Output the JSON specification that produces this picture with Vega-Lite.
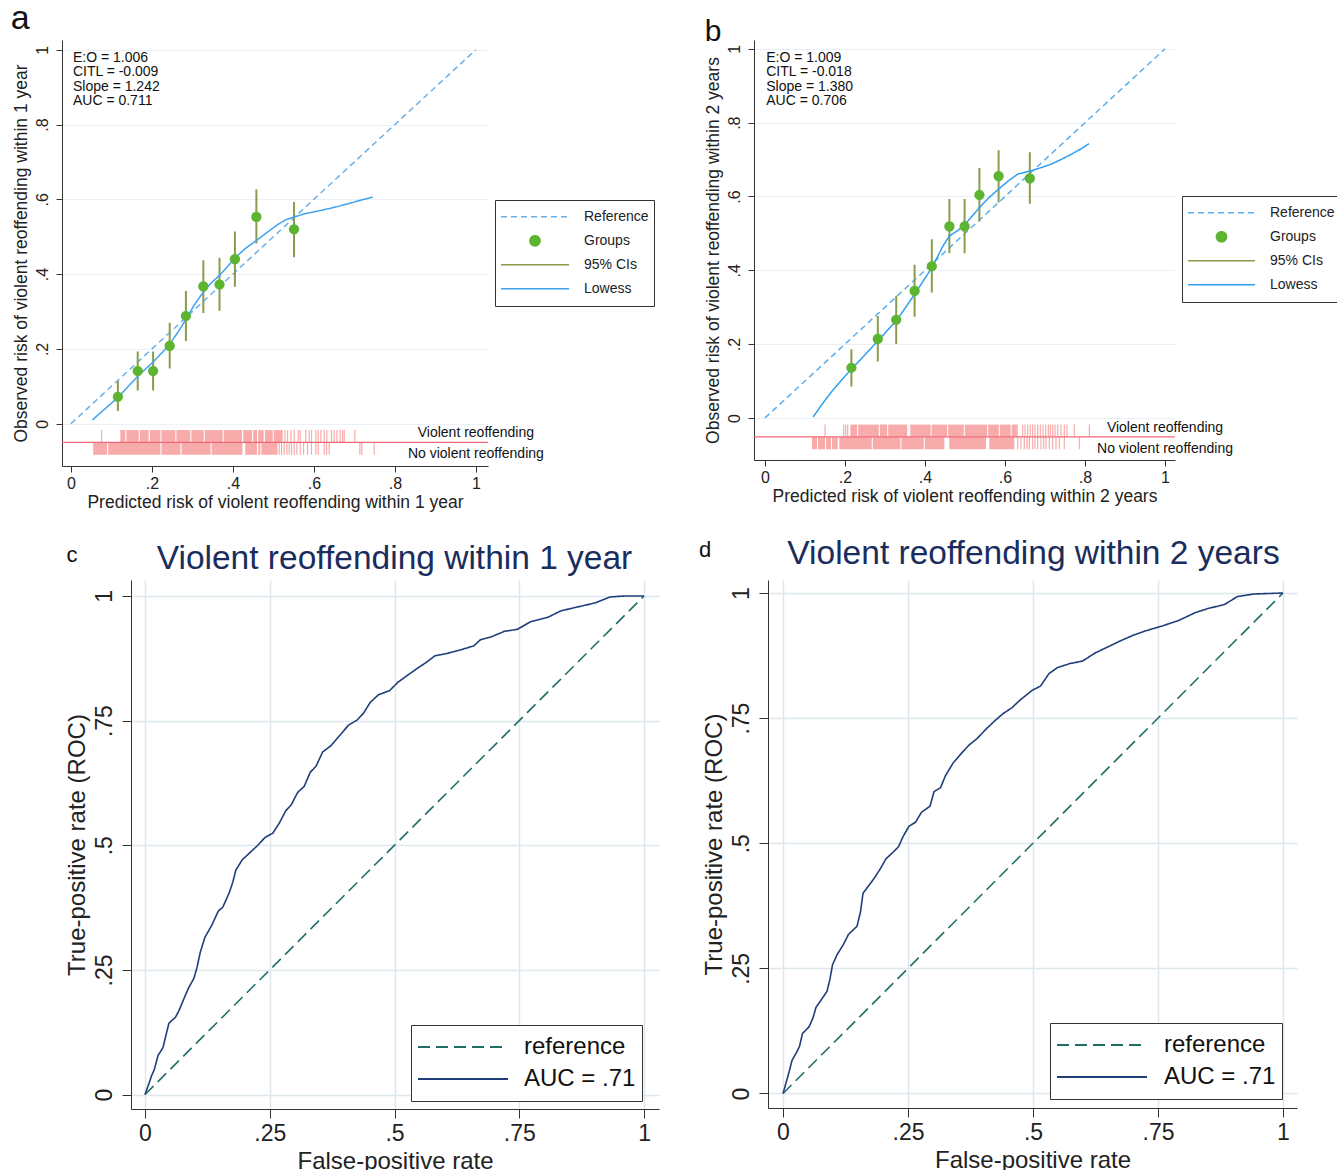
{
  "$schema": "https://vega.github.io/schema/vega-lite/v6.json",
  "background": "white",
  "padding": {"left": 10, "top": 1, "right": 0, "bottom": 0},
  "bounds": "flush",
  "spacing": 540,
  "resolve": {"scale": {"color": "independent", "strokeDash": "independent", "shape": "independent"}, "legend": {"color": "independent", "strokeDash": "independent", "shape": "independent"}},
  "datasets": {
    "grpA": [
      {"x": 0.116, "y": 0.072, "lo": 0.034, "hi": 0.114},
      {"x": 0.165, "y": 0.141, "lo": 0.089, "hi": 0.193},
      {"x": 0.203, "y": 0.141, "lo": 0.089, "hi": 0.193},
      {"x": 0.244, "y": 0.208, "lo": 0.148, "hi": 0.270},
      {"x": 0.284, "y": 0.288, "lo": 0.221, "hi": 0.355},
      {"x": 0.327, "y": 0.367, "lo": 0.296, "hi": 0.437},
      {"x": 0.367, "y": 0.372, "lo": 0.302, "hi": 0.444},
      {"x": 0.405, "y": 0.440, "lo": 0.366, "hi": 0.514},
      {"x": 0.458, "y": 0.553, "lo": 0.482, "hi": 0.626},
      {"x": 0.551, "y": 0.520, "lo": 0.445, "hi": 0.593}
    ],
    "grpB": [
      {"x": 0.216, "y": 0.136, "lo": 0.085, "hi": 0.186},
      {"x": 0.282, "y": 0.214, "lo": 0.153, "hi": 0.276},
      {"x": 0.328, "y": 0.266, "lo": 0.200, "hi": 0.331},
      {"x": 0.374, "y": 0.344, "lo": 0.274, "hi": 0.415},
      {"x": 0.417, "y": 0.411, "lo": 0.340, "hi": 0.484},
      {"x": 0.461, "y": 0.519, "lo": 0.446, "hi": 0.593},
      {"x": 0.499, "y": 0.519, "lo": 0.446, "hi": 0.593},
      {"x": 0.536, "y": 0.604, "lo": 0.532, "hi": 0.677},
      {"x": 0.584, "y": 0.655, "lo": 0.584, "hi": 0.725},
      {"x": 0.662, "y": 0.649, "lo": 0.580, "hi": 0.720}
    ],
    "lowA": [
      {"x": 0.053, "y": 0.010}, {"x": 0.08, "y": 0.036}, {"x": 0.116, "y": 0.070}, {"x": 0.14, "y": 0.098},
      {"x": 0.165, "y": 0.127}, {"x": 0.19, "y": 0.152}, {"x": 0.203, "y": 0.165}, {"x": 0.225, "y": 0.19},
      {"x": 0.244, "y": 0.213}, {"x": 0.265, "y": 0.246}, {"x": 0.284, "y": 0.279}, {"x": 0.305, "y": 0.318},
      {"x": 0.327, "y": 0.352}, {"x": 0.345, "y": 0.375}, {"x": 0.367, "y": 0.397}, {"x": 0.385, "y": 0.418},
      {"x": 0.405, "y": 0.443}, {"x": 0.43, "y": 0.468}, {"x": 0.458, "y": 0.490}, {"x": 0.485, "y": 0.512},
      {"x": 0.51, "y": 0.532}, {"x": 0.53, "y": 0.545}, {"x": 0.551, "y": 0.553}, {"x": 0.58, "y": 0.562},
      {"x": 0.62, "y": 0.571}, {"x": 0.66, "y": 0.581}, {"x": 0.70, "y": 0.593}, {"x": 0.745, "y": 0.606}
    ],
    "lowB": [
      {"x": 0.120, "y": 0.002}, {"x": 0.14, "y": 0.033}, {"x": 0.165, "y": 0.069}, {"x": 0.19, "y": 0.101},
      {"x": 0.216, "y": 0.132}, {"x": 0.25, "y": 0.171}, {"x": 0.282, "y": 0.209}, {"x": 0.305, "y": 0.236},
      {"x": 0.328, "y": 0.263}, {"x": 0.35, "y": 0.297}, {"x": 0.374, "y": 0.335}, {"x": 0.395, "y": 0.37},
      {"x": 0.417, "y": 0.407}, {"x": 0.432, "y": 0.438}, {"x": 0.445, "y": 0.466}, {"x": 0.461, "y": 0.493},
      {"x": 0.481, "y": 0.507}, {"x": 0.499, "y": 0.523}, {"x": 0.518, "y": 0.547}, {"x": 0.536, "y": 0.570},
      {"x": 0.56, "y": 0.597}, {"x": 0.584, "y": 0.620}, {"x": 0.608, "y": 0.642}, {"x": 0.631, "y": 0.660},
      {"x": 0.662, "y": 0.669}, {"x": 0.69, "y": 0.678}, {"x": 0.714, "y": 0.687}, {"x": 0.74, "y": 0.700},
      {"x": 0.765, "y": 0.714}, {"x": 0.79, "y": 0.729}, {"x": 0.810, "y": 0.743}
    ],
    "rugA_span": [
      {"g": "v", "x": 0.122, "x2": 0.1345}, {"g": "v", "x": 0.137, "x2": 0.1675}, {"g": "v", "x": 0.170, "x2": 0.192},
      {"g": "v", "x": 0.195, "x2": 0.221}, {"g": "v", "x": 0.2235, "x2": 0.258}, {"g": "v", "x": 0.2605, "x2": 0.295},
      {"g": "v", "x": 0.2975, "x2": 0.328}, {"g": "v", "x": 0.3305, "x2": 0.375}, {"g": "v", "x": 0.3775, "x2": 0.4225},
      {"g": "v", "x": 0.4255, "x2": 0.4475}, {"g": "v", "x": 0.450, "x2": 0.4595}, {"g": "v", "x": 0.4625, "x2": 0.476},
      {"g": "v", "x": 0.479, "x2": 0.4985}, {"g": "v", "x": 0.501, "x2": 0.523},
      {"g": "n", "x": 0.055, "x2": 0.0895}, {"g": "n", "x": 0.092, "x2": 0.221}, {"g": "n", "x": 0.2235, "x2": 0.2705},
      {"g": "n", "x": 0.273, "x2": 0.345}, {"g": "n", "x": 0.3475, "x2": 0.4235}, {"g": "n", "x": 0.4305, "x2": 0.4595},
      {"g": "n", "x": 0.4625, "x2": 0.468}, {"g": "n", "x": 0.4705, "x2": 0.5103}
    ],
    "rugA_tick": [
      {"g": "v", "x": 0.0757}, {"g": "v", "x": 0.5284}, {"g": "v", "x": 0.5350}, {"g": "v", "x": 0.5432},
      {"g": "v", "x": 0.5514}, {"g": "v", "x": 0.5613}, {"g": "v", "x": 0.5663}, {"g": "v", "x": 0.5802},
      {"g": "v", "x": 0.5885}, {"g": "v", "x": 0.5942}, {"g": "v", "x": 0.6049}, {"g": "v", "x": 0.6107},
      {"g": "v", "x": 0.6173}, {"g": "v", "x": 0.6255}, {"g": "v", "x": 0.6321}, {"g": "v", "x": 0.6436},
      {"g": "v", "x": 0.6502}, {"g": "v", "x": 0.6568}, {"g": "v", "x": 0.6650}, {"g": "v", "x": 0.6708},
      {"g": "v", "x": 0.6749}, {"g": "v", "x": 0.7012},
      {"g": "n", "x": 0.5144}, {"g": "n", "x": 0.5202}, {"g": "n", "x": 0.5267}, {"g": "n", "x": 0.5333},
      {"g": "n", "x": 0.5391}, {"g": "n", "x": 0.5449}, {"g": "n", "x": 0.5514}, {"g": "n", "x": 0.5580},
      {"g": "n", "x": 0.5663}, {"g": "n", "x": 0.5745}, {"g": "n", "x": 0.5844}, {"g": "n", "x": 0.5942},
      {"g": "n", "x": 0.6049}, {"g": "n", "x": 0.6107}, {"g": "n", "x": 0.6255}, {"g": "n", "x": 0.6313},
      {"g": "n", "x": 0.6379}, {"g": "n", "x": 0.7136}, {"g": "n", "x": 0.7185}, {"g": "n", "x": 0.7490}
    ],
    "rugB_span": [
      {"g": "v", "x": 0.2133, "x2": 0.2305}, {"g": "v", "x": 0.233, "x2": 0.2845}, {"g": "v", "x": 0.287, "x2": 0.3055},
      {"g": "v", "x": 0.308, "x2": 0.3555}, {"g": "v", "x": 0.3633, "x2": 0.414}, {"g": "v", "x": 0.4165, "x2": 0.4555},
      {"g": "v", "x": 0.458, "x2": 0.497}, {"g": "v", "x": 0.4995, "x2": 0.5555}, {"g": "v", "x": 0.558, "x2": 0.5845},
      {"g": "v", "x": 0.587, "x2": 0.614}, {"g": "v", "x": 0.6165, "x2": 0.6317},
      {"g": "n", "x": 0.1175, "x2": 0.130}, {"g": "n", "x": 0.1325, "x2": 0.150}, {"g": "n", "x": 0.1525, "x2": 0.165},
      {"g": "n", "x": 0.1675, "x2": 0.1817}, {"g": "n", "x": 0.1858, "x2": 0.267}, {"g": "n", "x": 0.2695, "x2": 0.3385},
      {"g": "n", "x": 0.341, "x2": 0.397}, {"g": "n", "x": 0.3995, "x2": 0.4483}, {"g": "n", "x": 0.4608, "x2": 0.5525},
      {"g": "n", "x": 0.5608, "x2": 0.6233}
    ],
    "rugB_tick": [
      {"g": "v", "x": 0.150}, {"g": "v", "x": 0.1967}, {"g": "v", "x": 0.2017}, {"g": "v", "x": 0.2067},
      {"g": "v", "x": 0.6442}, {"g": "v", "x": 0.65}, {"g": "v", "x": 0.6567}, {"g": "v", "x": 0.6633},
      {"g": "v", "x": 0.6692}, {"g": "v", "x": 0.675}, {"g": "v", "x": 0.6817}, {"g": "v", "x": 0.6883},
      {"g": "v", "x": 0.695}, {"g": "v", "x": 0.7017}, {"g": "v", "x": 0.7083}, {"g": "v", "x": 0.7133},
      {"g": "v", "x": 0.7192}, {"g": "v", "x": 0.725}, {"g": "v", "x": 0.7317}, {"g": "v", "x": 0.74},
      {"g": "v", "x": 0.7483}, {"g": "v", "x": 0.755}, {"g": "v", "x": 0.7733}, {"g": "v", "x": 0.8108},
      {"g": "n", "x": 0.6317}, {"g": "n", "x": 0.64}, {"g": "n", "x": 0.6483}, {"g": "n", "x": 0.655},
      {"g": "n", "x": 0.6608}, {"g": "n", "x": 0.6692}, {"g": "n", "x": 0.675}, {"g": "n", "x": 0.6817},
      {"g": "n", "x": 0.69}, {"g": "n", "x": 0.6967}, {"g": "n", "x": 0.7025}, {"g": "n", "x": 0.7108},
      {"g": "n", "x": 0.7192}, {"g": "n", "x": 0.7275}, {"g": "n", "x": 0.7358}, {"g": "n", "x": 0.7483},
      {"g": "n", "x": 0.7858}
    ],
    "rocC": [
      {"x": 0, "y": 0}, {"x": 0.009, "y": 0.025}, {"x": 0.013, "y": 0.037}, {"x": 0.019, "y": 0.051},
      {"x": 0.026, "y": 0.078}, {"x": 0.036, "y": 0.094}, {"x": 0.043, "y": 0.123}, {"x": 0.048, "y": 0.143},
      {"x": 0.061, "y": 0.155}, {"x": 0.068, "y": 0.168}, {"x": 0.078, "y": 0.192}, {"x": 0.087, "y": 0.213},
      {"x": 0.098, "y": 0.233}, {"x": 0.104, "y": 0.254}, {"x": 0.111, "y": 0.286}, {"x": 0.120, "y": 0.315},
      {"x": 0.134, "y": 0.340}, {"x": 0.147, "y": 0.368}, {"x": 0.156, "y": 0.376}, {"x": 0.169, "y": 0.405},
      {"x": 0.176, "y": 0.426}, {"x": 0.182, "y": 0.450}, {"x": 0.195, "y": 0.471}, {"x": 0.208, "y": 0.483},
      {"x": 0.225, "y": 0.499}, {"x": 0.241, "y": 0.516}, {"x": 0.256, "y": 0.524}, {"x": 0.269, "y": 0.544},
      {"x": 0.282, "y": 0.569}, {"x": 0.293, "y": 0.581}, {"x": 0.306, "y": 0.606}, {"x": 0.319, "y": 0.618},
      {"x": 0.331, "y": 0.646}, {"x": 0.343, "y": 0.659}, {"x": 0.356, "y": 0.687}, {"x": 0.373, "y": 0.700},
      {"x": 0.390, "y": 0.720}, {"x": 0.408, "y": 0.741}, {"x": 0.425, "y": 0.751}, {"x": 0.438, "y": 0.765},
      {"x": 0.451, "y": 0.786}, {"x": 0.468, "y": 0.802}, {"x": 0.490, "y": 0.810}, {"x": 0.507, "y": 0.827},
      {"x": 0.529, "y": 0.843}, {"x": 0.546, "y": 0.855}, {"x": 0.564, "y": 0.867}, {"x": 0.581, "y": 0.880},
      {"x": 0.607, "y": 0.885}, {"x": 0.633, "y": 0.892}, {"x": 0.659, "y": 0.900}, {"x": 0.672, "y": 0.912},
      {"x": 0.694, "y": 0.918}, {"x": 0.720, "y": 0.929}, {"x": 0.746, "y": 0.933}, {"x": 0.772, "y": 0.948},
      {"x": 0.807, "y": 0.957}, {"x": 0.833, "y": 0.970}, {"x": 0.867, "y": 0.978}, {"x": 0.902, "y": 0.986},
      {"x": 0.932, "y": 0.998}, {"x": 0.963, "y": 1.0}, {"x": 1.0, "y": 1.0}
    ],
    "rocD": [
      {"x": 0, "y": 0}, {"x": 0.006, "y": 0.021}, {"x": 0.013, "y": 0.046}, {"x": 0.018, "y": 0.066},
      {"x": 0.027, "y": 0.082}, {"x": 0.033, "y": 0.094}, {"x": 0.039, "y": 0.120}, {"x": 0.052, "y": 0.133},
      {"x": 0.060, "y": 0.151}, {"x": 0.066, "y": 0.172}, {"x": 0.077, "y": 0.188}, {"x": 0.088, "y": 0.204},
      {"x": 0.094, "y": 0.229}, {"x": 0.099, "y": 0.257}, {"x": 0.108, "y": 0.277}, {"x": 0.121, "y": 0.298},
      {"x": 0.131, "y": 0.318}, {"x": 0.148, "y": 0.334}, {"x": 0.155, "y": 0.363}, {"x": 0.160, "y": 0.400},
      {"x": 0.169, "y": 0.412}, {"x": 0.181, "y": 0.428}, {"x": 0.194, "y": 0.448}, {"x": 0.206, "y": 0.469},
      {"x": 0.219, "y": 0.481}, {"x": 0.231, "y": 0.493}, {"x": 0.240, "y": 0.513}, {"x": 0.252, "y": 0.534},
      {"x": 0.265, "y": 0.542}, {"x": 0.277, "y": 0.562}, {"x": 0.294, "y": 0.574}, {"x": 0.302, "y": 0.603},
      {"x": 0.315, "y": 0.611}, {"x": 0.325, "y": 0.635}, {"x": 0.340, "y": 0.660}, {"x": 0.357, "y": 0.680},
      {"x": 0.373, "y": 0.697}, {"x": 0.388, "y": 0.709}, {"x": 0.407, "y": 0.729}, {"x": 0.424, "y": 0.745},
      {"x": 0.440, "y": 0.759}, {"x": 0.457, "y": 0.770}, {"x": 0.474, "y": 0.786}, {"x": 0.499, "y": 0.806},
      {"x": 0.515, "y": 0.814}, {"x": 0.532, "y": 0.839}, {"x": 0.549, "y": 0.851}, {"x": 0.574, "y": 0.859},
      {"x": 0.599, "y": 0.864}, {"x": 0.624, "y": 0.880}, {"x": 0.649, "y": 0.892}, {"x": 0.674, "y": 0.904},
      {"x": 0.699, "y": 0.915}, {"x": 0.724, "y": 0.924}, {"x": 0.758, "y": 0.934}, {"x": 0.791, "y": 0.945},
      {"x": 0.825, "y": 0.961}, {"x": 0.850, "y": 0.969}, {"x": 0.883, "y": 0.977}, {"x": 0.909, "y": 0.993},
      {"x": 0.942, "y": 0.998}, {"x": 1.0, "y": 1.0}
    ]
  },
  "vconcat": [
    {
      "hconcat": [
        {
          "width": 426,
          "height": 426,
          "layer": [
            {
              "data": {"name": "rugA_span"},
              "transform": [{"filter": "datum.g == 'v'"}],
              "mark": {"type": "rect", "color": "#f8abab"},
              "encoding": {
                "x": {"field": "x", "type": "quantitative", "scale": {"domain": [-0.022, 1.03], "nice": false, "zero": false},
                  "axis": {"values": [0, 0.2, 0.4, 0.6, 0.8, 1], "grid": false, "title": "Predicted risk of violent reoffending within 1 year",
                    "tickSize": 6, "labelPadding": 3, "titlePadding": 2,
                    "labelExpr": "datum.value == 0 ? '0' : datum.value == 1 ? '1' : slice(format(datum.value, '~g'), 1)"}},
                "x2": {"field": "x2"},
                "y": {"datum": -0.017, "type": "quantitative", "scale": {"domain": [-0.113, 1.026], "nice": false, "zero": false},
                  "axis": {"values": [0, 0.2, 0.4, 0.6, 0.8, 1], "grid": true, "title": "Observed risk of violent reoffending within 1 year",
                    "tickSize": 6, "labelPadding": 6, "titlePadding": 4,
                    "labelExpr": "datum.value == 0 ? '0' : datum.value == 1 ? '1' : slice(format(datum.value, '~g'), 1)"}},
                "y2": {"datum": -0.049}
              }
            },
            {
              "data": {"name": "rugA_span"},
              "transform": [{"filter": "datum.g == 'n'"}],
              "mark": {"type": "rect", "color": "#f8abab"},
              "encoding": {"x": {"field": "x", "type": "quantitative"}, "x2": {"field": "x2"}, "y": {"datum": -0.051}, "y2": {"datum": -0.083}}
            },
            {
              "data": {"name": "rugA_tick"},
              "transform": [{"filter": "datum.g == 'v'"}],
              "mark": {"type": "rule", "color": "#f8abab", "strokeWidth": 1.2},
              "encoding": {"x": {"field": "x", "type": "quantitative"}, "y": {"datum": -0.017}, "y2": {"datum": -0.049}}
            },
            {
              "data": {"name": "rugA_tick"},
              "transform": [{"filter": "datum.g == 'n'"}],
              "mark": {"type": "rule", "color": "#f8abab", "strokeWidth": 1.2},
              "encoding": {"x": {"field": "x", "type": "quantitative"}, "y": {"datum": -0.051}, "y2": {"datum": -0.083}}
            },
            {
              "data": {"values": [{}]},
              "mark": {"type": "rule", "color": "#f06877", "strokeWidth": 1.2},
              "encoding": {"y": {"datum": -0.050}}
            },
            {
              "data": {"values": [{}]},
              "mark": {"type": "rule", "strokeWidth": 1.5},
              "encoding": {
                "x": {"datum": 0}, "y": {"datum": 0}, "x2": {"datum": 1}, "y2": {"datum": 1},
                "color": {"datum": "Reference", "type": "nominal",
                  "scale": {"domain": ["Reference", "Groups", "95% CIs", "Lowess"], "range": ["#6cb0ea", "#5cb431", "#8a9c4c", "#3fa3ef"]},
                  "legend": {"orient": "none", "legendX": 433, "legendY": 160, "title": null, "symbolSize": 4624, "symbolOpacity": 1,
                    "symbolStrokeWidth": 1.5, "clipHeight": 23.7, "rowPadding": 0, "padding": 5, "labelOffset": 14, "labelFontSize": 14,
                    "labelFont": "Liberation Sans", "labelColor": "#222", "strokeColor": "#333", "fillColor": "white"}},
                "strokeDash": {"datum": "Reference", "type": "nominal",
                  "scale": {"domain": ["Reference", "Groups", "95% CIs", "Lowess"], "range": [[6, 4], [1, 0], [1, 0], [1, 0]]},
                  "legend": {"orient": "none", "legendX": 433, "legendY": 160, "title": null, "symbolSize": 4624, "symbolOpacity": 1,
                    "symbolStrokeWidth": 1.5, "clipHeight": 23.7, "rowPadding": 0, "padding": 5, "labelOffset": 14, "labelFontSize": 14,
                    "labelFont": "Liberation Sans", "labelColor": "#222", "strokeColor": "#333", "fillColor": "white"}}
              }
            },
            {
              "data": {"name": "grpA"},
              "mark": {"type": "rule", "strokeWidth": 2},
              "encoding": {"x": {"field": "x", "type": "quantitative"}, "y": {"field": "lo", "type": "quantitative"}, "y2": {"field": "hi"},
                "color": {"datum": "95% CIs"}, "strokeDash": {"datum": "95% CIs"}}
            },
            {
              "data": {"name": "lowA"},
              "mark": {"type": "line", "strokeWidth": 1.5},
              "encoding": {"x": {"field": "x", "type": "quantitative"}, "y": {"field": "y", "type": "quantitative"},
                "color": {"datum": "Lowess"}, "strokeDash": {"datum": "Lowess"}}
            },
            {
              "data": {"name": "grpA"},
              "mark": {"type": "point", "filled": true, "size": 4624, "opacity": 1},
              "encoding": {"x": {"field": "x", "type": "quantitative"}, "y": {"field": "y", "type": "quantitative"},
                "color": {"datum": "Groups"},
                "shape": {"datum": "Groups", "type": "nominal",
                  "scale": {"domain": ["Reference", "Groups", "95% CIs", "Lowess"], "range": ["stroke", "M-0.15,0A0.15,0.15,0,1,0,0.15,0A0.15,0.15,0,1,0,-0.15,0Z", "stroke", "stroke"]},
                  "legend": {"orient": "none", "legendX": 433, "legendY": 160, "title": null, "symbolSize": 4624, "symbolOpacity": 1,
                    "symbolStrokeWidth": 1.5, "clipHeight": 23.7, "rowPadding": 0, "padding": 5, "labelOffset": 14, "labelFontSize": 14,
                    "labelFont": "Liberation Sans", "labelColor": "#222", "strokeColor": "#333", "fillColor": "white"}}}
            },
            {
              "data": {"values": [{}]},
              "mark": {"type": "text", "text": "Violent reoffending", "fontSize": 14, "align": "center", "baseline": "middle", "color": "#111"},
              "encoding": {"x": {"datum": 1}, "y": {"datum": -0.026}}
            },
            {
              "data": {"values": [{}]},
              "mark": {"type": "text", "text": "No violent reoffending", "fontSize": 14, "align": "center", "baseline": "middle", "color": "#111"},
              "encoding": {"x": {"datum": 1}, "y": {"datum": -0.081}}
            },
            {
              "data": {"values": [{}]},
              "mark": {"type": "text", "text": ["E:O = 1.006", "CITL = -0.009", "Slope = 1.242", "AUC = 0.711"], "fontSize": 14, "lineHeight": 14.5, "align": "left", "baseline": "top", "color": "#111"},
              "encoding": {"x": {"datum": 0.005}, "y": {"datum": 0.997}}
            },
            {
              "data": {"values": [{}]},
              "mark": {"type": "text", "text": "a", "fontSize": 34, "align": "center", "baseline": "alphabetic", "color": "#111"},
              "encoding": {"x": {"datum": -0.125}, "y": {"datum": 1.056}}
            }
          ]
        },
        {
          "width": 421,
          "height": 420,
          "layer": [
            {
              "data": {"name": "rugB_span"},
              "transform": [{"filter": "datum.g == 'v'"}],
              "mark": {"type": "rect", "color": "#f8abab"},
              "encoding": {
                "x": {"field": "x", "type": "quantitative", "scale": {"domain": [-0.0275, 1.025], "nice": false, "zero": false},
                  "axis": {"values": [0, 0.2, 0.4, 0.6, 0.8, 1], "grid": false, "title": "Predicted risk of violent reoffending within 2 years",
                    "tickSize": 6, "labelPadding": 3, "titlePadding": 2,
                    "labelExpr": "datum.value == 0 ? '0' : datum.value == 1 ? '1' : slice(format(datum.value, '~g'), 1)"}},
                "x2": {"field": "x2"},
                "y": {"datum": -0.018, "type": "quantitative", "scale": {"domain": [-0.114, 1.024], "nice": false, "zero": false},
                  "axis": {"values": [0, 0.2, 0.4, 0.6, 0.8, 1], "grid": true, "title": "Observed risk of violent reoffending within 2 years",
                    "tickSize": 6, "labelPadding": 6, "titlePadding": 4,
                    "labelExpr": "datum.value == 0 ? '0' : datum.value == 1 ? '1' : slice(format(datum.value, '~g'), 1)"}},
                "y2": {"datum": -0.051}
              }
            },
            {
              "data": {"name": "rugB_span"},
              "transform": [{"filter": "datum.g == 'n'"}],
              "mark": {"type": "rect", "color": "#f8abab"},
              "encoding": {"x": {"field": "x", "type": "quantitative"}, "x2": {"field": "x2"}, "y": {"datum": -0.052}, "y2": {"datum": -0.085}}
            },
            {
              "data": {"name": "rugB_tick"},
              "transform": [{"filter": "datum.g == 'v'"}],
              "mark": {"type": "rule", "color": "#f8abab", "strokeWidth": 1.2},
              "encoding": {"x": {"field": "x", "type": "quantitative"}, "y": {"datum": -0.018}, "y2": {"datum": -0.051}}
            },
            {
              "data": {"name": "rugB_tick"},
              "transform": [{"filter": "datum.g == 'n'"}],
              "mark": {"type": "rule", "color": "#f8abab", "strokeWidth": 1.2},
              "encoding": {"x": {"field": "x", "type": "quantitative"}, "y": {"datum": -0.052}, "y2": {"datum": -0.085}}
            },
            {
              "data": {"values": [{}]},
              "mark": {"type": "rule", "color": "#f06877", "strokeWidth": 1.2},
              "encoding": {"y": {"datum": -0.0515}}
            },
            {
              "data": {"values": [{}]},
              "mark": {"type": "rule", "strokeWidth": 1.5},
              "encoding": {
                "x": {"datum": 0}, "y": {"datum": 0}, "x2": {"datum": 1}, "y2": {"datum": 1},
                "color": {"datum": "Reference", "type": "nominal",
                  "scale": {"domain": ["Reference", "Groups", "95% CIs", "Lowess"], "range": ["#5ab0ec", "#5cb431", "#8a9c4c", "#2f9ff0"]},
                  "legend": {"orient": "none", "legendX": 428, "legendY": 156, "title": null, "symbolSize": 4489, "symbolOpacity": 1,
                    "symbolStrokeWidth": 1.5, "clipHeight": 23.5, "rowPadding": 0, "padding": 5, "labelOffset": 14, "labelFontSize": 14,
                    "labelFont": "Liberation Sans", "labelColor": "#222", "strokeColor": "#333", "fillColor": "white"}},
                "strokeDash": {"datum": "Reference", "type": "nominal",
                  "scale": {"domain": ["Reference", "Groups", "95% CIs", "Lowess"], "range": [[6, 4], [1, 0], [1, 0], [1, 0]]},
                  "legend": {"orient": "none", "legendX": 428, "legendY": 156, "title": null, "symbolSize": 4489, "symbolOpacity": 1,
                    "symbolStrokeWidth": 1.5, "clipHeight": 23.5, "rowPadding": 0, "padding": 5, "labelOffset": 14, "labelFontSize": 14,
                    "labelFont": "Liberation Sans", "labelColor": "#222", "strokeColor": "#333", "fillColor": "white"}}
              }
            },
            {
              "data": {"name": "grpB"},
              "mark": {"type": "rule", "strokeWidth": 2},
              "encoding": {"x": {"field": "x", "type": "quantitative"}, "y": {"field": "lo", "type": "quantitative"}, "y2": {"field": "hi"},
                "color": {"datum": "95% CIs"}, "strokeDash": {"datum": "95% CIs"}}
            },
            {
              "data": {"name": "lowB"},
              "mark": {"type": "line", "strokeWidth": 1.5},
              "encoding": {"x": {"field": "x", "type": "quantitative"}, "y": {"field": "y", "type": "quantitative"},
                "color": {"datum": "Lowess"}, "strokeDash": {"datum": "Lowess"}}
            },
            {
              "data": {"name": "grpB"},
              "mark": {"type": "point", "filled": true, "size": 4489, "opacity": 1},
              "encoding": {"x": {"field": "x", "type": "quantitative"}, "y": {"field": "y", "type": "quantitative"},
                "color": {"datum": "Groups"},
                "shape": {"datum": "Groups", "type": "nominal",
                  "scale": {"domain": ["Reference", "Groups", "95% CIs", "Lowess"], "range": ["stroke", "M-0.152,0A0.152,0.152,0,1,0,0.152,0A0.152,0.152,0,1,0,-0.152,0Z", "stroke", "stroke"]},
                  "legend": {"orient": "none", "legendX": 428, "legendY": 156, "title": null, "symbolSize": 4489, "symbolOpacity": 1,
                    "symbolStrokeWidth": 1.5, "clipHeight": 23.5, "rowPadding": 0, "padding": 5, "labelOffset": 14, "labelFontSize": 14,
                    "labelFont": "Liberation Sans", "labelColor": "#222", "strokeColor": "#333", "fillColor": "white"}}}
            },
            {
              "data": {"values": [{}]},
              "mark": {"type": "text", "text": "Violent reoffending", "fontSize": 14, "align": "center", "baseline": "middle", "color": "#111"},
              "encoding": {"x": {"datum": 1}, "y": {"datum": -0.027}}
            },
            {
              "data": {"values": [{}]},
              "mark": {"type": "text", "text": "No violent reoffending", "fontSize": 14, "align": "center", "baseline": "middle", "color": "#111"},
              "encoding": {"x": {"datum": 1}, "y": {"datum": -0.083}}
            },
            {
              "data": {"values": [{}]},
              "mark": {"type": "text", "text": ["E:O = 1.009", "CITL = -0.018", "Slope = 1.380", "AUC = 0.706"], "fontSize": 14, "lineHeight": 14.5, "align": "left", "baseline": "top", "color": "#111"},
              "encoding": {"x": {"datum": 0.003}, "y": {"datum": 0.995}}
            },
            {
              "data": {"values": [{}]},
              "mark": {"type": "text", "text": "b", "fontSize": 30, "align": "center", "baseline": "alphabetic", "color": "#111"},
              "encoding": {"x": {"datum": -0.13}, "y": {"datum": 1.022}}
            }
          ]
        }
      ],
      "spacing": 266,
      "bounds": "flush",
      "resolve": {"scale": {"color": "independent", "strokeDash": "independent", "shape": "independent"}, "legend": {"color": "independent", "strokeDash": "independent", "shape": "independent"}}
    },
    {
      "hconcat": [
        {
          "width": 69,
          "height": 10,
          "data": {"values": [{"t": ""}]},
          "mark": {"type": "text"},
          "encoding": {"text": {"field": "t", "type": "nominal"}}
        },
        {
          "hconcat": [
            {
              "width": 528,
              "height": 529,
              "layer": [
                {
                  "data": {"values": [{}]},
                  "mark": {"type": "rule", "strokeWidth": 1.6},
                  "encoding": {
                    "x": {"datum": 0, "type": "quantitative", "scale": {"domain": [-0.028, 1.03], "nice": false, "zero": false},
                      "axis": {"values": [0, 0.25, 0.5, 0.75, 1], "grid": true, "title": "False-positive rate", "gridColor": "#dde7ee", "gridWidth": 1.5,
                        "labelFontSize": 23, "titleFontSize": 24, "tickSize": 9, "labelPadding": 4, "titlePadding": 4,
                        "labelExpr": "datum.value == 0 ? '0' : datum.value == 1 ? '1' : slice(format(datum.value, '~g'), 1)"}},
                    "y": {"datum": 0, "type": "quantitative", "scale": {"domain": [-0.029, 1.032], "nice": false, "zero": false},
                      "axis": {"values": [0, 0.25, 0.5, 0.75, 1], "grid": true, "title": "True-positive rate (ROC)", "gridColor": "#dde7ee", "gridWidth": 1.5,
                        "labelFontSize": 23, "titleFontSize": 24, "tickSize": 9, "labelPadding": 6, "titlePadding": 4,
                        "labelExpr": "datum.value == 0 ? '0' : datum.value == 1 ? '1' : slice(format(datum.value, '~g'), 1)"}},
                    "x2": {"datum": 1}, "y2": {"datum": 1},
                    "color": {"datum": "reference", "type": "nominal",
                      "scale": {"domain": ["reference", "AUC = .71"], "range": ["#1f6f67", "#1f3f7a"]},
                      "legend": {"orient": "none", "legendX": 280, "legendY": 445, "title": null, "symbolSize": 8100, "symbolOpacity": 1,
                        "symbolStrokeWidth": 1.8, "clipHeight": 32, "rowPadding": 0, "padding": 6, "labelOffset": 15, "labelFontSize": 24,
                        "labelFont": "Liberation Sans", "labelColor": "#111", "strokeColor": "#333", "fillColor": "white"}},
                    "strokeDash": {"datum": "reference", "type": "nominal",
                      "scale": {"domain": ["reference", "AUC = .71"], "range": [[12, 6], [1, 0]]},
                      "legend": {"orient": "none", "legendX": 280, "legendY": 445, "title": null, "symbolSize": 8100, "symbolOpacity": 1,
                        "symbolStrokeWidth": 1.8, "clipHeight": 32, "rowPadding": 0, "padding": 6, "labelOffset": 15, "labelFontSize": 24,
                        "labelFont": "Liberation Sans", "labelColor": "#111", "strokeColor": "#333", "fillColor": "white"}}
                  }
                },
                {
                  "data": {"name": "rocC"},
                  "mark": {"type": "line", "strokeWidth": 1.6},
                  "encoding": {"x": {"field": "x", "type": "quantitative"}, "y": {"field": "y", "type": "quantitative"},
                    "color": {"datum": "AUC = .71"}, "strokeDash": {"datum": "AUC = .71"}}
                },
                {
                  "data": {"values": [{}]},
                  "mark": {"type": "text", "text": "Violent reoffending within 1 year", "fontSize": 33.5, "align": "center", "baseline": "alphabetic", "color": "#1a2d5c"},
                  "encoding": {"x": {"datum": 0.5}, "y": {"datum": 1.054}}
                },
                {
                  "data": {"values": [{}]},
                  "mark": {"type": "text", "text": "c", "fontSize": 22, "align": "center", "baseline": "alphabetic", "color": "#111"},
                  "encoding": {"x": {"datum": -0.146}, "y": {"datum": 1.068}}
                }
              ]
            },
            {
              "width": 529,
              "height": 528,
              "layer": [
                {
                  "data": {"values": [{}]},
                  "mark": {"type": "rule", "strokeWidth": 1.6},
                  "encoding": {
                    "x": {"datum": 0, "type": "quantitative", "scale": {"domain": [-0.030, 1.028], "nice": false, "zero": false},
                      "axis": {"values": [0, 0.25, 0.5, 0.75, 1], "grid": true, "title": "False-positive rate", "gridColor": "#dde7ee", "gridWidth": 1.5,
                        "labelFontSize": 23, "titleFontSize": 24, "tickSize": 9, "labelPadding": 4, "titlePadding": 4,
                        "labelExpr": "datum.value == 0 ? '0' : datum.value == 1 ? '1' : slice(format(datum.value, '~g'), 1)"}},
                    "y": {"datum": 0, "type": "quantitative", "scale": {"domain": [-0.029, 1.026], "nice": false, "zero": false},
                      "axis": {"values": [0, 0.25, 0.5, 0.75, 1], "grid": true, "title": "True-positive rate (ROC)", "gridColor": "#dde7ee", "gridWidth": 1.5,
                        "labelFontSize": 23, "titleFontSize": 24, "tickSize": 9, "labelPadding": 6, "titlePadding": 4,
                        "labelExpr": "datum.value == 0 ? '0' : datum.value == 1 ? '1' : slice(format(datum.value, '~g'), 1)"}},
                    "x2": {"datum": 1}, "y2": {"datum": 1},
                    "color": {"datum": "reference", "type": "nominal",
                      "scale": {"domain": ["reference", "AUC = .71"], "range": ["#1f6f67", "#1f3f7a"]},
                      "legend": {"orient": "none", "legendX": 282, "legendY": 443, "title": null, "symbolSize": 8100, "symbolOpacity": 1,
                        "symbolStrokeWidth": 1.8, "clipHeight": 32, "rowPadding": 0, "padding": 6, "labelOffset": 16, "labelFontSize": 24,
                        "labelFont": "Liberation Sans", "labelColor": "#111", "strokeColor": "#333", "fillColor": "white"}},
                    "strokeDash": {"datum": "reference", "type": "nominal",
                      "scale": {"domain": ["reference", "AUC = .71"], "range": [[12, 6], [1, 0]]},
                      "legend": {"orient": "none", "legendX": 282, "legendY": 443, "title": null, "symbolSize": 8100, "symbolOpacity": 1,
                        "symbolStrokeWidth": 1.8, "clipHeight": 32, "rowPadding": 0, "padding": 6, "labelOffset": 16, "labelFontSize": 24,
                        "labelFont": "Liberation Sans", "labelColor": "#111", "strokeColor": "#333", "fillColor": "white"}}
                  }
                },
                {
                  "data": {"name": "rocD"},
                  "mark": {"type": "line", "strokeWidth": 1.6},
                  "encoding": {"x": {"field": "x", "type": "quantitative"}, "y": {"field": "y", "type": "quantitative"},
                    "color": {"datum": "AUC = .71"}, "strokeDash": {"datum": "AUC = .71"}}
                },
                {
                  "data": {"values": [{}]},
                  "mark": {"type": "text", "text": "Violent reoffending within 2 years", "fontSize": 33.5, "align": "center", "baseline": "alphabetic", "color": "#1a2d5c"},
                  "encoding": {"x": {"datum": 0.501}, "y": {"datum": 1.058}}
                },
                {
                  "data": {"values": [{}]},
                  "mark": {"type": "text", "text": "d", "fontSize": 22, "align": "center", "baseline": "alphabetic", "color": "#111"},
                  "encoding": {"x": {"datum": -0.156}, "y": {"datum": 1.072}}
                }
              ]
            }
          ],
          "spacing": 109,
          "bounds": "flush",
          "resolve": {"scale": {"color": "independent", "strokeDash": "independent", "shape": "independent"}, "legend": {"color": "independent", "strokeDash": "independent", "shape": "independent"}}
        }
      ],
      "spacing": 0,
      "bounds": "flush",
      "resolve": {"scale": {"color": "independent", "strokeDash": "independent", "shape": "independent"}, "legend": {"color": "independent", "strokeDash": "independent", "shape": "independent"}}
    }
  ],
  "config": {
    "view": {"stroke": null},
    "font": "Liberation Sans",
    "text": {"font": "Liberation Sans"},
    "axis": {
      "domainColor": "#333", "domainWidth": 1, "tickColor": "#333", "tickSize": 5, "tickWidth": 1,
      "labelFont": "Liberation Sans", "labelFontSize": 16, "labelColor": "#222", "labelPadding": 4,
      "titleFont": "Liberation Sans", "titleFontSize": 17.5, "titleFontWeight": "normal", "titleColor": "#222", "titlePadding": 3,
      "gridColor": "#e9f0f6", "gridWidth": 1
    },
    "axisY": {"labelAngle": -90, "labelAlign": "center", "labelBaseline": "bottom"}
  }
}
